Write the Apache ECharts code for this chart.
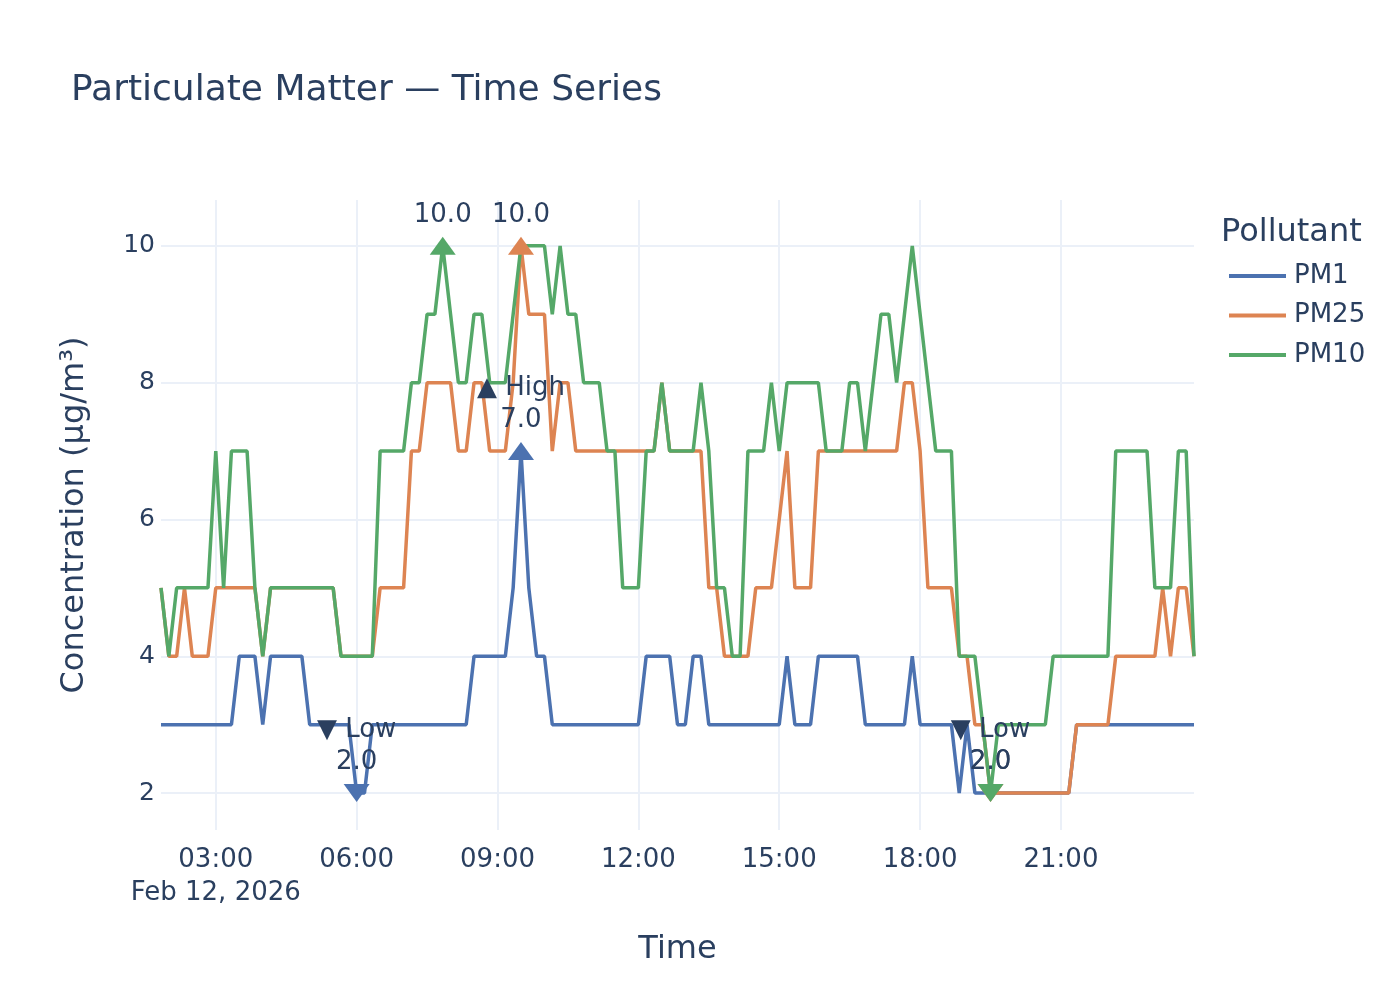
<!DOCTYPE html>
<html>
<head>
<meta charset="utf-8">
<script src="https://cdn.jsdelivr.net/npm/echarts@6/dist/echarts.min.js"></script>
<style>
html, body { margin: 0; padding: 0; background: #fff; }
#chart { width: 1400px; height: 1000px; }
</style>
</head>
<body>
<div id="chart"></div>
<script>
var chartDom = document.getElementById('chart');
var pmChart = echarts.init(chartDom);
var option;

// readings every 10 minutes, Feb 12 2026 01:50 -> 23:50
var startTime = Date.UTC(2026, 1, 12, 1, 50);
var stepMs = 10 * 60 * 1000;

var seriesNames = ['PM1', 'PM25', 'PM10'];
var seriesColors = ['#4C72B0', '#DD8452', '#55A868'];

var pm1 = [
    3, 3, 3, 3, 3, 3, 3, 3, 3, 3,
    4, 4, 4, 3, 4, 4, 4, 4, 4, 3,
    3, 3, 3, 3, 3, 2, 2, 3, 3, 3,
    3, 3, 3, 3, 3, 3, 3, 3, 3, 3,
    4, 4, 4, 4, 4, 5, 7, 5, 4, 4,
    3, 3, 3, 3, 3, 3, 3, 3, 3, 3,
    3, 3, 4, 4, 4, 4, 3, 3, 4, 4,
    3, 3, 3, 3, 3, 3, 3, 3, 3, 3,
    4, 3, 3, 3, 4, 4, 4, 4, 4, 4,
    3, 3, 3, 3, 3, 3, 4, 3, 3, 3,
    3, 3, 2, 3, 2, 2, 2, 2, 2, 2,
    2, 2, 2, 2, 2, 2, 2, 3, 3, 3,
    3, 3, 3, 3, 3, 3, 3, 3, 3, 3,
    3, 3, 3
];
var pm25 = [
    5, 4, 4, 5, 4, 4, 4, 5, 5, 5,
    5, 5, 5, 4, 5, 5, 5, 5, 5, 5,
    5, 5, 5, 4, 4, 4, 4, 4, 5, 5,
    5, 5, 7, 7, 8, 8, 8, 8, 7, 7,
    8, 8, 7, 7, 7, 8, 10, 9, 9, 9,
    7, 8, 8, 7, 7, 7, 7, 7, 7, 7,
    7, 7, 7, 7, 8, 7, 7, 7, 7, 7,
    5, 5, 4, 4, 4, 4, 5, 5, 5, 6,
    7, 5, 5, 5, 7, 7, 7, 7, 7, 7,
    7, 7, 7, 7, 7, 8, 8, 7, 5, 5,
    5, 5, 4, 4, 3, 3, 2, 2, 2, 2,
    2, 2, 2, 2, 2, 2, 2, 3, 3, 3,
    3, 3, 4, 4, 4, 4, 4, 4, 5, 4,
    5, 5, 4
];
var pm10 = [
    5, 4, 5, 5, 5, 5, 5, 7, 5, 7,
    7, 7, 5, 4, 5, 5, 5, 5, 5, 5,
    5, 5, 5, 4, 4, 4, 4, 4, 7, 7,
    7, 7, 8, 8, 9, 9, 10, 9, 8, 8,
    9, 9, 8, 8, 8, 9, 10, 10, 10, 10,
    9, 10, 9, 9, 8, 8, 8, 7, 7, 5,
    5, 5, 7, 7, 8, 7, 7, 7, 7, 8,
    7, 5, 5, 4, 4, 7, 7, 7, 8, 7,
    8, 8, 8, 8, 8, 7, 7, 7, 8, 8,
    7, 8, 9, 9, 8, 9, 10, 9, 8, 7,
    7, 7, 4, 4, 4, 3, 2, 3, 3, 3,
    3, 3, 3, 3, 4, 4, 4, 4, 4, 4,
    4, 4, 7, 7, 7, 7, 7, 5, 5, 5,
    7, 7, 4
];

// which extremes carry a High / Low note
var notes = {
    PM1: { max: '▲ High', min: '▼ Low' },
    PM25: {},
    PM10: { min: '▼ Low' }
};

var tickHours = [3, 6, 9, 12, 15, 18, 21];
var yTicks = [2, 4, 6, 8, 10];

var tickTimes = tickHours.map(function (h) { return Date.UTC(2026, 1, 12, h, 0); });
var endTime = startTime + (pm1.length - 1) * stepMs;

function pad(n) { return (n < 10 ? '0' : '') + n; }

var textColor = '#2a3f5f';
var font = 'DejaVu Sans';

function buildSeries(name, values, idx) {
    var note = notes[name];
    function makeLabel(kind) {
        return {
            show: true,
            position: 'top',
            distance: 6,
            color: textColor,
            fontFamily: font,
            fontSize: 26,
            lineHeight: 32,
            align: 'center',
            formatter: function (p) {
                var txt = Number(p.value).toFixed(1);
                return note[kind] ? note[kind] + '\n' + txt : txt;
            }
        };
    }
    return {
        name: name,
        type: 'line',
        showSymbol: false,
        symbol: 'none',
        lineStyle: { width: 3.5, color: seriesColors[idx] },
        itemStyle: { color: seriesColors[idx] },
        data: values.map(function (v, i) { return [startTime + i * stepMs, v]; }),
        markPoint: {
            symbol: 'triangle',
            symbolSize: [26, 18],
            itemStyle: { color: seriesColors[idx] },
            data: [
                { type: 'max', name: 'max', label: makeLabel('max') },
                { type: 'min', name: 'min', symbolRotate: 180, label: makeLabel('min') }
            ]
        }
    };
}

option = {
    animation: false,
    backgroundColor: '#ffffff',
    title: [
        {
            text: 'Particulate Matter — Time Series',
            left: 66,
            top: 68,
            textStyle: { color: textColor, fontFamily: font, fontSize: 36, fontWeight: 'normal' }
        },
        {
            text: 'Pollutant',
            left: 1216,
            top: 212,
            textStyle: { color: textColor, fontFamily: font, fontSize: 32, fontWeight: 'normal' }
        }
    ],
    legend: {
        orient: 'vertical',
        left: 1224,
        top: 258,
        itemWidth: 57,
        itemHeight: 4,
        itemGap: 13.5,
        icon: 'rect',
        data: seriesNames,
        textStyle: { color: textColor, fontFamily: font, fontSize: 26, lineHeight: 26, padding: [0, 0, 0, 3] }
    },
    grid: { left: 161, right: 206, top: 200, bottom: 170 },
    xAxis: {
        type: 'value',
        min: startTime,
        max: endTime,
        scale: true,
        name: 'Time',
        nameLocation: 'middle',
        nameGap: 104,
        nameTextStyle: { color: textColor, fontFamily: font, fontSize: 32 },
        axisLine: { show: false },
        axisTick: { show: false, customValues: tickTimes },
        splitLine: { show: true, lineStyle: { color: '#EBF0F8', width: 2 } },
        axisLabel: {
            customValues: tickTimes,
            color: textColor,
            fontFamily: font,
            fontSize: 26,
            lineHeight: 33,
            margin: 14,
            formatter: function (value) {
                var d = new Date(value);
                var txt = pad(d.getUTCHours()) + ':' + pad(d.getUTCMinutes());
                if (value === tickTimes[0]) txt += '\nFeb 12, 2026';
                return txt;
            }
        }
    },
    yAxis: {
        type: 'value',
        min: 1.46,
        max: 10.67,
        name: 'Concentration (µg/m³)',
        nameLocation: 'middle',
        nameRotate: 90,
        nameGap: 70,
        nameTextStyle: { color: textColor, fontFamily: font, fontSize: 32 },
        axisLine: { show: false },
        axisTick: { show: false, customValues: yTicks },
        splitLine: { show: true, lineStyle: { color: '#EBF0F8', width: 2 } },
        axisLabel: {
            customValues: yTicks,
            color: textColor,
            fontFamily: font,
            fontSize: 25,
            margin: 6
        }
    },
    series: [
        buildSeries('PM1', pm1, 0),
        buildSeries('PM25', pm25, 1),
        buildSeries('PM10', pm10, 2)
    ]
};

option && pmChart.setOption(option);
</script>
</body>
</html>
